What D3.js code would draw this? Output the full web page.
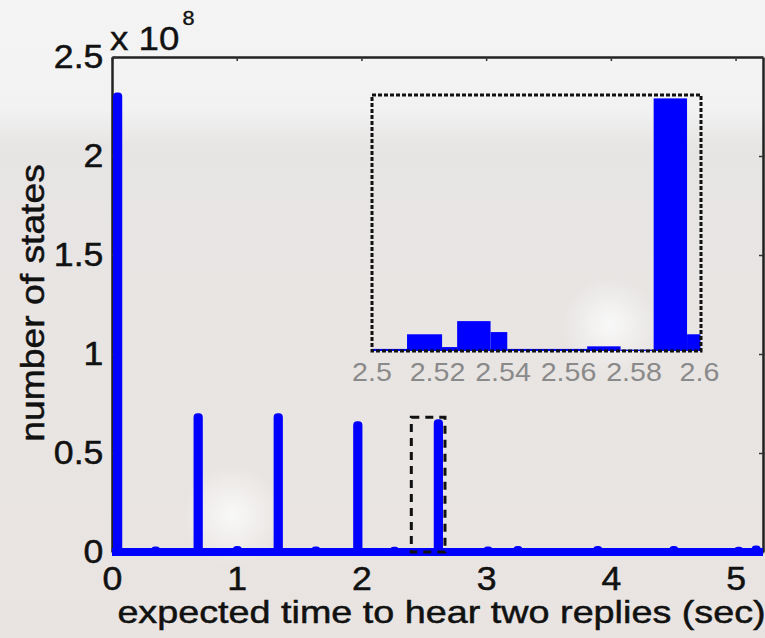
<!DOCTYPE html>
<html>
<head>
<meta charset="utf-8">
<script src="https://cdn.jsdelivr.net/npm/d3@7"></script>
<style>
  html, body { margin: 0; padding: 0; background: #efefef; }
  svg { display: block; }
  text { font-family: "Liberation Sans", Arial, Helvetica, sans-serif; }
</style>
</head>
<body>
<svg></svg>
<script>
// constants
const WIDTH = 765;
const HEIGHT = 638;
const STRETCH = 1.08; // text in the picture is a bit wide

// main axes box
const LEFT = 112, RIGHT = 763, TOP = 57, BOTTOM = 552;
// inset box
const IN_LEFT = 372, IN_RIGHT = 701, IN_TOP = 95, IN_BOTTOM = 351;

// data: main plot (sec, number of states)
const spikeTimes = [0.04, 0.686, 1.328, 1.966, 2.612];
const spikeCounts = [2.30e8, 0.68e8, 0.68e8, 0.64e8, 0.65e8];
const bumpTimes = [0.345, 1.0, 1.63, 2.26, 3.01, 3.25, 3.89, 4.50, 5.02, 5.16];
const bumpCounts = [0.008e8, 0.01e8, 0.008e8, 0.006e8, 0.008e8, 0.01e8, 0.01e8, 0.01e8, 0.006e8, 0.012e8];
const xMax = 5.22;
const xTicks = [0, 1, 2, 3, 4, 5];
const yTicks = [0, 0.5e8, 1e8, 1.5e8, 2e8, 2.5e8];
const yTickLabels = ['0', '0.5', '1', '1.5', '2', '2.5'];
// highlighted window
const zoomWindow = [2.40, 2.67];
const zoomWindowTop = 0.68e8;

// data: inset histogram
const binStart = [2.500, 2.5107, 2.5214, 2.526, 2.5362, 2.5413, 2.5657, 2.5759, 2.586, 2.5962];
const binEnd   = [2.5107, 2.5214, 2.526, 2.5362, 2.5413, 2.5657, 2.5759, 2.586, 2.5962, 2.6003];
const binCounts = [0.003e8, 0.043e8, 0.008e8, 0.079e8, 0.049e8, 0.003e8, 0.01e8, 0.001e8, 0.688e8, 0.043e8];
const insetTicks = [2.5, 2.52, 2.54, 2.56, 2.58, 2.6];
const insetTickLabels = ['2.5', '2.52', '2.54', '2.56', '2.58', '2.6'];

const svg = d3.select('svg')
    .attr('width', WIDTH)
    .attr('height', HEIGHT);

// faded backdrop
const defs = svg.append('defs');
const bg = defs.append('linearGradient')
    .attr('id', 'bg').attr('x1', 0).attr('y1', 0).attr('x2', 0).attr('y2', 1);
bg.append('stop').attr('offset', '0%').attr('stop-color', '#f4f4f4');
bg.append('stop').attr('offset', '17%').attr('stop-color', '#f2f2f2');
bg.append('stop').attr('offset', '23%').attr('stop-color', '#e7e5e4');
bg.append('stop').attr('offset', '100%').attr('stop-color', '#e9e4e1');
svg.append('rect').attr('width', WIDTH).attr('height', HEIGHT).attr('fill', 'url(#bg)');

const glow = defs.append('radialGradient').attr('id', 'glow');
glow.append('stop').attr('offset', '0%').attr('stop-color', '#fbfbfb').attr('stop-opacity', 0.9);
glow.append('stop').attr('offset', '100%').attr('stop-color', '#fbfbfb').attr('stop-opacity', 0);
svg.append('circle').attr('cx', 232).attr('cy', 515).attr('r', 50).attr('fill', 'url(#glow)');
svg.append('circle').attr('cx', 610).attr('cy', 325).attr('r', 48).attr('fill', 'url(#glow)');

// scales
const x = d3.scaleLinear().domain([0, xMax]).range([LEFT, RIGHT]);
const y = d3.scaleLinear().domain([0, 2.5e8]).range([BOTTOM, TOP]);

// axes (matlab style: ticks inward on all sides)
function styleAxis(g) {
    g.select('.domain').attr('stroke', '#222').attr('stroke-width', 2.5);
    g.selectAll('.tick line').attr('stroke', '#333').attr('stroke-width', 1.5);
}
svg.append('g').attr('transform', `translate(0,${TOP})`)
    .call(d3.axisTop(x).tickValues(xTicks).tickSize(-4).tickSizeOuter(0).tickFormat(''))
    .call(styleAxis);
svg.append('g').attr('transform', `translate(${RIGHT},0)`)
    .call(d3.axisRight(y).tickValues(yTicks).tickSize(-4).tickSizeOuter(0).tickFormat(''))
    .call(styleAxis);

const xAxis = svg.append('g').attr('transform', `translate(0,${BOTTOM})`)
    .call(d3.axisBottom(x).tickValues(xTicks).tickSize(-4).tickSizeOuter(0).tickPadding(15)
        .tickFormat(d3.format('d')))
    .call(styleAxis);
const yAxis = svg.append('g').attr('transform', `translate(${LEFT},0)`)
    .call(d3.axisLeft(y).tickValues(yTicks).tickSize(-4).tickSizeOuter(0).tickPadding(8)
        .tickFormat((d, i) => yTickLabels[i]))
    .call(styleAxis);

[xAxis, yAxis].forEach(a => a.selectAll('text')
    .attr('font-size', 33)
    .attr('fill', '#111')
    .attr('stroke', '#111')
    .attr('stroke-width', 0.5)
    .attr('font-family', '"Liberation Sans", Arial, sans-serif')
    .attr('transform', `scale(${STRETCH},1)`));

// exponent
const expo = svg.append('text')
    .attr('transform', `translate(110,50) scale(${STRETCH},1)`)
    .attr('font-size', 34).attr('fill', '#111')
    .attr('stroke', '#111').attr('stroke-width', 0.4);
expo.append('tspan').text('x 10');
expo.append('tspan').attr('font-size', 20).attr('dy', -25).attr('dx', 3).text('8');

// axis titles
svg.append('text')
    .attr('transform', `translate(${(LEFT + RIGHT) / 2 + 4},623) scale(1.18,1)`)
    .attr('text-anchor', 'middle')
    .attr('font-size', 32).attr('fill', '#111')
    .attr('stroke', '#111').attr('stroke-width', 0.5)
    .text('expected time to hear two replies (sec)');
svg.append('text')
    .attr('transform', `translate(44,303) rotate(-90) scale(1.13,1)`)
    .attr('text-anchor', 'middle')
    .attr('font-size', 33).attr('fill', '#111')
    .attr('stroke', '#111').attr('stroke-width', 0.5)
    .text('number of states');

// main series as a thick line through a fine histogram
const events = spikeTimes.map((t, i) => ({ t, v: spikeCounts[i] }))
    .concat(bumpTimes.map((t, i) => ({ t, v: bumpCounts[i] })))
    .sort((a, b) => a.t - b.t);
const BIN = 0.01;
const pts = [[0, 0]];
events.forEach(e => {
    pts.push([e.t, 0], [e.t, e.v], [e.t + BIN, e.v], [e.t + BIN, 0]);
});
pts.push([xMax, 0]);

svg.append('path')
    .datum(pts)
    .attr('fill', 'none')
    .attr('stroke', '#0000ff')
    .attr('stroke-width', 8)
    .attr('stroke-linejoin', 'round')
    .attr('d', d3.line().x(d => x(d[0])).y(d => y(d[1])));

// dashed window around the zoomed spike
svg.append('rect')
    .attr('x', x(zoomWindow[0]))
    .attr('y', y(zoomWindowTop))
    .attr('width', x(zoomWindow[1]) - x(zoomWindow[0]))
    .attr('height', y(0) - y(zoomWindowTop))
    .attr('fill', 'none')
    .attr('stroke', '#111')
    .attr('stroke-width', 3)
    .attr('stroke-dasharray', '8,6');

// inset
const xi = d3.scaleLinear().domain([2.5, 2.6]).range([IN_LEFT, IN_RIGHT - 1.5]);
const yi = d3.scaleLinear().domain([0, 0.7e8]).range([IN_BOTTOM, IN_TOP]);

const inset = svg.append('g');
inset.selectAll('rect.bin')
    .data(binCounts).join('rect')
    .attr('class', 'bin')
    .attr('x', (d, i) => xi(binStart[i]))
    .attr('width', (d, i) => xi(binEnd[i]) - xi(binStart[i]))
    .attr('y', d => yi(d) - 1)
    .attr('height', d => yi(0) - yi(d) + 1)
    .attr('fill', '#0000ff');

inset.append('rect')
    .attr('x', IN_LEFT)
    .attr('y', IN_TOP)
    .attr('width', IN_RIGHT - IN_LEFT)
    .attr('height', IN_BOTTOM - IN_TOP)
    .attr('fill', 'none')
    .attr('stroke', '#111')
    .attr('stroke-width', 3)
    .attr('stroke-dasharray', '4,2');

inset.selectAll('text.tl')
    .data(insetTicks).join('text')
    .attr('class', 'tl')
    .attr('transform', d => `translate(${xi(d)},${IN_BOTTOM + 30}) scale(1.1,1)`)
    .attr('text-anchor', 'middle')
    .attr('font-size', 26)
    .attr('fill', '#8a8a8a')
    .text((d, i) => insetTickLabels[i]);
</script>
</body>
</html>
